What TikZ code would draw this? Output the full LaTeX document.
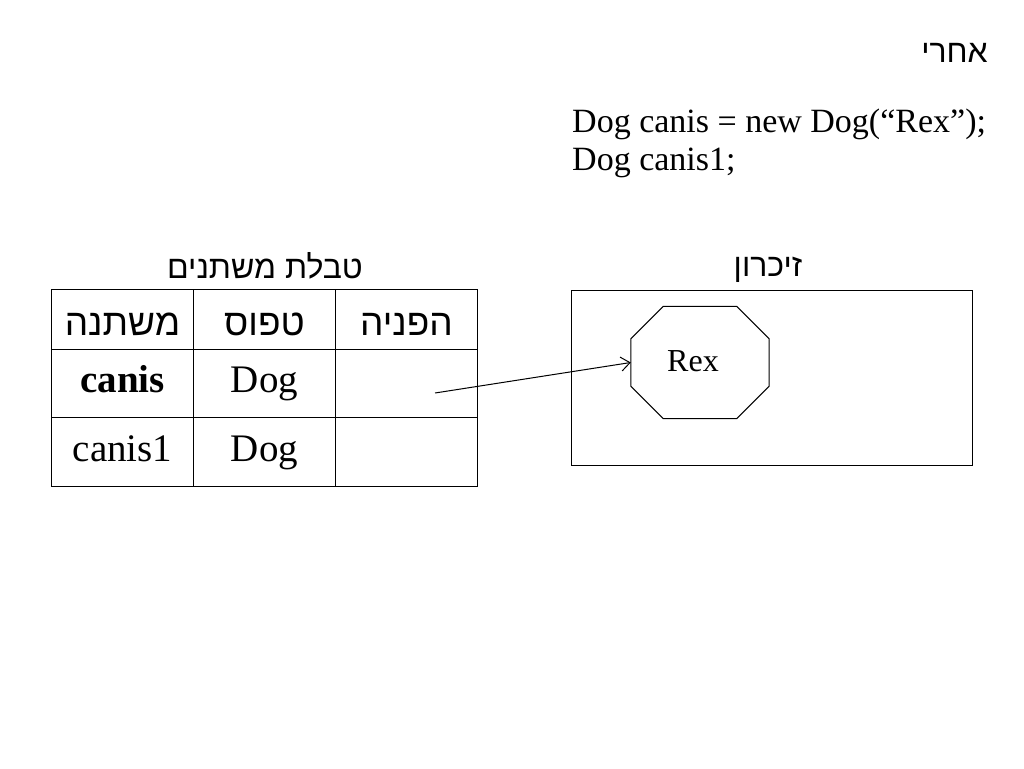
\documentclass[tikz,border=0pt]{standalone}
\usepackage{fontspec}
\setmainfont{Liberation Serif}
\newfontfamily\hebfont[Script=Hebrew]{Liberation Sans}
\TeXXeTstate=1
\usetikzlibrary{arrows.meta}

\newcommand{\heb}[1]{{\hebfont\beginR #1\endR}}

\begin{document}
\begin{tikzpicture}
    [
    x = 1pt, y = -1pt,
    every node/.style       = {font=\fontsize{32}{38}\selectfont, inner sep=0pt},
    cell/.style             = {draw, line width=1pt, minimum width=142pt},
    head/.style             = {cell, minimum height=60pt, text height=32pt, text depth=0pt, font=\fontsize{37}{44}\selectfont},
    row/.style              = {cell, minimum height=68.5pt, text height=23pt, text depth=5pt, font=\fontsize{39}{46}\selectfont},
    code/.style             = {anchor=base west, font=\fontsize{34}{40}\selectfont},
    title/.style            = {anchor=base},
    pointer/.style          = {line width=1pt, -{Straight Barb[length=9pt, width=14pt]}}
    ]
    \useasboundingbox (0,0) rectangle (1024,768);

    % heading and code
    \node [title, anchor=base east] (after) at (988,63) {\heb{אחרי}};
    \node [code] (line1) at (572,132) {Dog canis = new Dog(“Rex”);};
    \node [code] (line2) at (572,170) {Dog canis1;};

    % variable table
    \node [title] (tabletitle) at (265,278) {\heb{טבלת משתנים}};
    \node [head] (varhead)  at (122.5,319) {\heb{משתנה}};
    \node [head] (typehead) at (264.5,319) {\heb{טפוס}};
    \node [head] (refhead)  at (406.5,319) {\heb{הפניה}};
    \node [row] (canis)     at (122.5,383.5) {\textbf{canis}};
    \node [row] (canistype) at (264.5,383.5) {Dog};
    \node [row] (canisref)  at (406.5,383.5) {};
    \node [row] (canisa)     at (122.5,452) {canis1};
    \node [row] (canisatype) at (264.5,452) {Dog};
    \node [row] (canisaref)  at (406.5,452) {};

    % memory
    \node [title] (memtitle) at (768,276) {\heb{זיכרון}};
    \node [draw, line width=1pt, minimum width=401pt, minimum height=175pt] (memory) at (772,377.5) {};
    \node [minimum width=138pt, minimum height=112pt] (rex) at (700,362.5) {};
    \draw [line width=1pt]
        ([xshift=32.5pt]rex.north west) -- ([xshift=-32.5pt]rex.north east)
        -- ([yshift=-32.5pt]rex.north east) -- ([yshift=32.5pt]rex.south east)
        -- ([xshift=-32.5pt]rex.south east) -- ([xshift=32.5pt]rex.south west)
        -- ([yshift=32.5pt]rex.south west) -- ([yshift=-32.5pt]rex.north west) -- cycle;
    \node [anchor=base] (rexname) at (693,371) {Rex};

    \coordinate (ptr) at (435,393);
    \draw [pointer] (ptr) -- (rex.west);
\end{tikzpicture}
\end{document}
